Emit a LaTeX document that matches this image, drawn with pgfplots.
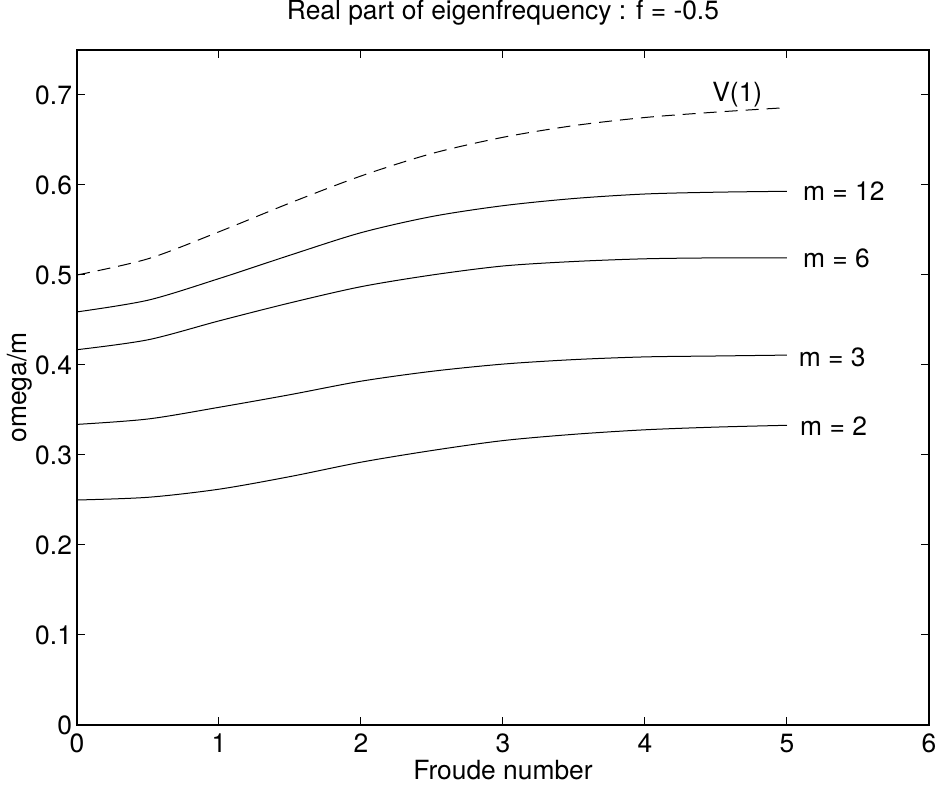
\documentclass[border=0pt]{standalone}
\usepackage{fontspec}
\setmainfont{TeX Gyre Heros}
\usepackage{pgfplots}
\pgfplotsset{compat=1.18}
\begin{document}
\begin{tikzpicture}
\begin{axis}[
  at={(0,0)}, anchor=south west,
  scale only axis, width=426pt, height=337.5pt,
  xmin=0, xmax=6, ymin=0, ymax=0.75,
  xtick={0,1,2,3,4,5,6},
  ytick={0,0.1,0.2,0.3,0.4,0.5,0.6,0.7},
  yticklabels={0,0.1,0.2,0.3,0.4,0.5,0.6,0.7},
  tick align=inside,
  major tick length=4pt,
  axis line style={line width=0.6pt},
  every tick/.style={black, line width=0.5pt},
  /pgf/number format/assume math mode=true,
  tick label style={font=\fontsize{13.2}{15}\selectfont},
  yticklabel style={xshift=1pt},
  xticklabel style={yshift=-1pt},
  clip=false,
]
\addplot[black, line width=0.5pt, smooth, dash pattern=on 6.5pt off 4pt] coordinates {
(0,0.500) (0.5,0.518) (1,0.548) (1.5,0.580) (2,0.610) (2.5,0.635) (3,0.653) (3.5,0.666) (4,0.675) (4.5,0.681) (5,0.686)};
\addplot[black, line width=0.5pt, smooth] coordinates {
(0,0.459) (0.5,0.472) (1,0.496) (1.5,0.522) (2,0.547) (2.5,0.565) (3,0.577) (3.5,0.585) (4,0.590) (4.5,0.592) (5,0.593)};
\addplot[black, line width=0.5pt, smooth] coordinates {
(0,0.417) (0.5,0.428) (1,0.449) (1.5,0.469) (2,0.487) (2.5,0.500) (3,0.510) (3.5,0.515) (4,0.518) (4.5,0.519) (5,0.519)};
\addplot[black, line width=0.5pt, smooth] coordinates {
(0,0.334) (0.5,0.340) (1,0.353) (1.5,0.367) (2,0.382) (2.5,0.393) (3,0.401) (3.5,0.406) (4,0.409) (4.5,0.410) (5,0.411)};
\addplot[black, line width=0.5pt, smooth] coordinates {
(0,0.250) (0.5,0.253) (1,0.262) (1.5,0.276) (2,0.292) (2.5,0.305) (3,0.316) (3.5,0.323) (4,0.328) (4.5,0.331) (5,0.333)};
\node[anchor=west, font=\fontsize{13.2}{15}\selectfont, inner sep=0pt] at (axis cs:5.11,0.593) {m = 12};
\node[anchor=west, font=\fontsize{13.2}{15}\selectfont, inner sep=0pt] at (axis cs:5.11,0.518) {m = 6};
\node[anchor=west, font=\fontsize{13.2}{15}\selectfont, inner sep=0pt] at (axis cs:5.08,0.409) {m = 3};
\node[anchor=west, font=\fontsize{13.2}{15}\selectfont, inner sep=0pt] at (axis cs:5.09,0.332) {m = 2};
\node[anchor=center, font=\fontsize{13.2}{15}\selectfont, inner sep=0pt] at (axis cs:4.65,0.700) {V(1)};
\node[anchor=center, font=\fontsize{13.2}{15}\selectfont, inner sep=0pt] at (axis cs:3,0.7917) {Real part of eigenfrequency : f = -0.5};
\node[anchor=center, font=\fontsize{13.2}{15}\selectfont, inner sep=0pt] at (axis cs:3,-0.05) {Froude number};
\node[anchor=center, rotate=90, font=\fontsize{13.2}{15}\selectfont, inner sep=0pt] at (axis cs:-0.401,0.375) {omega/m};
\end{axis}
\pgfresetboundingbox
\path (-38.5pt,-31pt) rectangle (431pt,362.5pt);
\end{tikzpicture}
\end{document}
